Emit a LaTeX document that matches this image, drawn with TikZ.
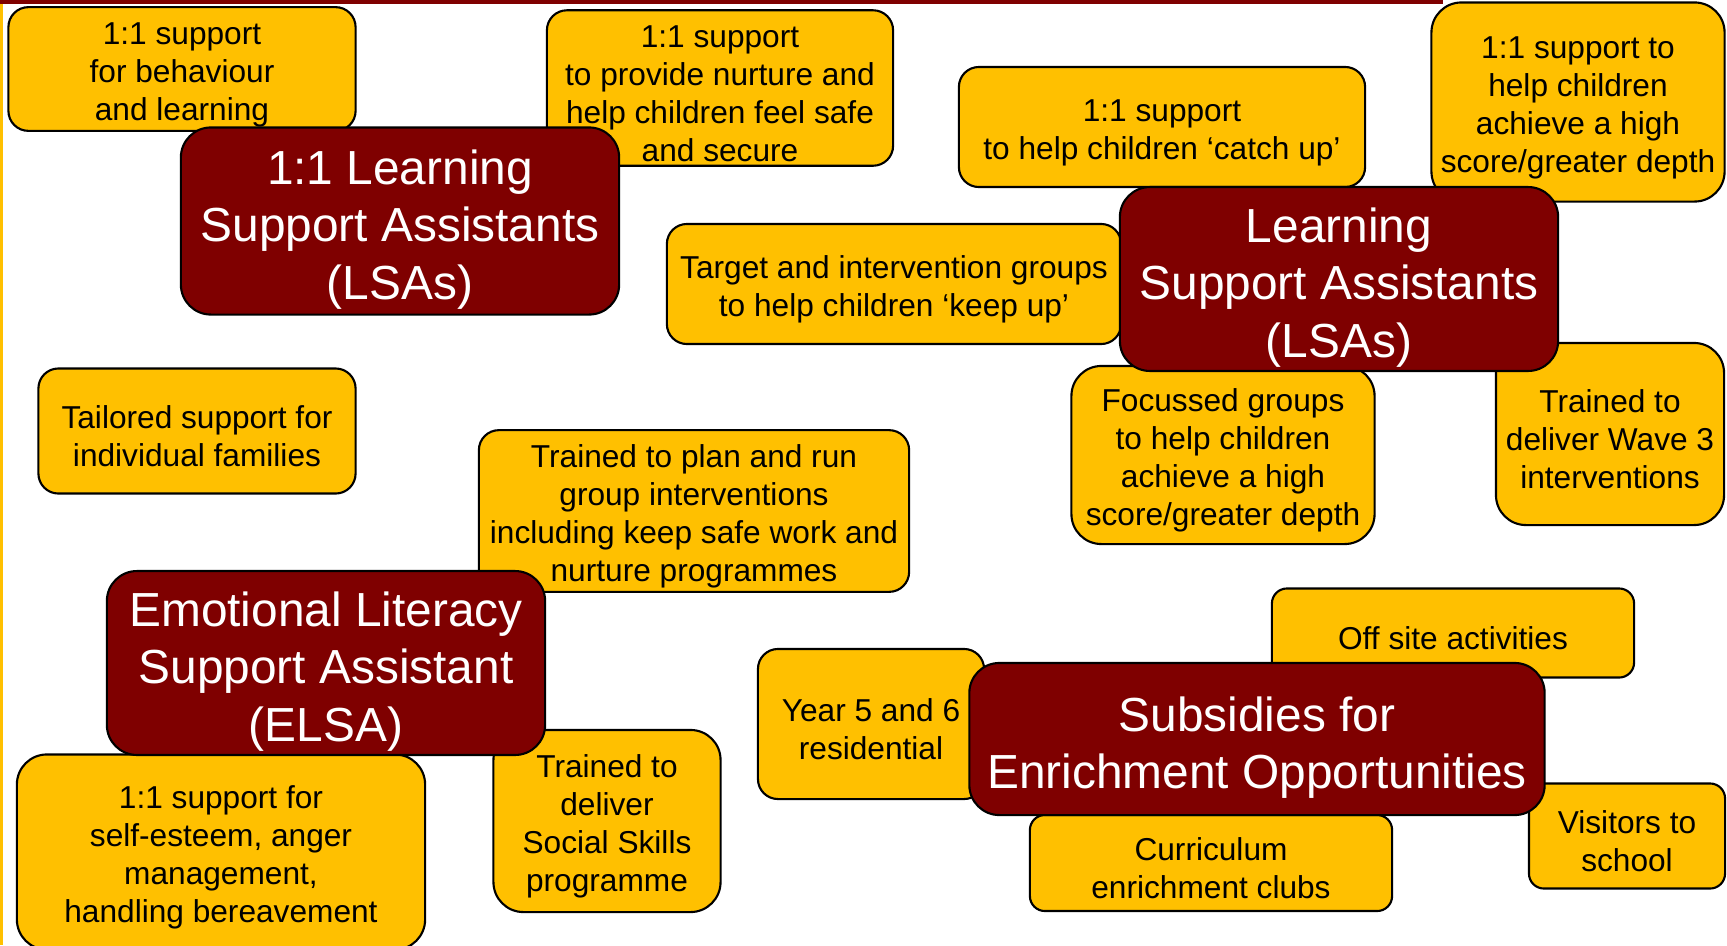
\documentclass[tikz,border=0pt]{standalone}
\usepackage{fontspec}
\setmainfont{Liberation Sans}
\definecolor{lsagold}{HTML}{FFC000}
\definecolor{lsared}{HTML}{7F0000}
\newcommand{\boxtop}{\rule{0pt}{1.08em}}
\tikzset{
  box/.style={draw=black, line width=0.6pt, fill=lsagold, rounded corners=2mm, align=center, inner sep=1pt, font=\fontsize{9}{10.8}\selectfont},
  head/.style={box, fill=lsared, rounded corners=3mm, text=white, font=\fontsize{13.6}{16.4}\selectfont}
}
\begin{document}
\begin{tikzpicture}[x=0.01cm, y=-0.01cm]
	\useasboundingbox (0,0) rectangle (1727,945);
	\fill[lsagold] (0,0) rectangle (3,945);
	\fill[lsared] (0,0) rectangle (1443,3.5);
	
	\node[box, minimum width=3.47cm, minimum height=1.21cm] (v1) at (182,69) {\boxtop 1:1 support\\for behaviour\\and learning};
	\node[box, minimum width=3.46cm, minimum height=1.54cm] (v2) at (720,88) {\boxtop 1:1 support\\to provide nurture and\\help children feel safe\\and secure};
	\node[box, minimum width=4.06cm, minimum height=1.20cm] (v3) at (1162,127) {\boxtop 1:1 support\\to help children `catch up'};
	\node[box, minimum width=2.93cm, minimum height=1.99cm, rounded corners=3mm] (v4) at (1578,102) {\boxtop 1:1 support to\\help children\\achieve a high\\score/greater depth};
	\node[box, minimum width=4.54cm, minimum height=1.20cm] (v5) at (894,284) {\boxtop Target and intervention groups\\to help children `keep up'};
	\node[box, minimum width=3.17cm, minimum height=1.25cm] (v6) at (197,431) {\boxtop Tailored support for\\individual families};
	\node[box, minimum width=4.30cm, minimum height=1.59cm] (v7) at (694,511) {\boxtop Trained to plan and run\\group interventions\\including keep safe work and\\nurture programmes};
	\node[box, minimum width=3.03cm, minimum height=1.78cm, rounded corners=3mm] (v8) at (1223,455) {\boxtop Focussed groups\\to help children\\achieve a high\\score/greater depth};
	\node[box, minimum width=2.28cm, minimum height=1.82cm, rounded corners=3mm] (v9) at (1610,434) {\boxtop Trained to\\deliver Wave 3\\interventions};
	\node[box, minimum width=4.08cm, minimum height=1.95cm, rounded corners=3mm] (v10) at (221,852) {\boxtop 1:1 support for\\self-esteem, anger\\management,\\handling bereavement};
	\node[box, minimum width=2.27cm, minimum height=1.82cm, rounded corners=3mm] (v11) at (607,821) {\boxtop Trained to\\deliver\\Social Skills\\programme};
	\node[box, minimum width=2.26cm, minimum height=1.50cm] (v12) at (871,724) {\boxtop Year 5 and 6\\residential};
	\node[box, minimum width=3.62cm, minimum height=0.89cm, rounded corners=1.5mm] (v13) at (1453,633) {\boxtop Off site activities};
	\node[box, minimum width=3.62cm, minimum height=0.96cm, rounded corners=1.5mm] (v14) at (1211,863) {\boxtop Curriculum\\enrichment clubs};
	\node[box, minimum width=1.96cm, minimum height=1.05cm, rounded corners=1.5mm] (v15) at (1627,836) {\boxtop Visitors to\\school};
	
	\node[head, minimum width=4.38cm, minimum height=1.87cm] (v16) at (400,221) {\boxtop 1:1 Learning\\Support Assistants\\(LSAs)};
	\node[head, minimum width=4.38cm, minimum height=1.79cm] (v17) at (1339,279) {\boxtop Learning\\Support Assistants\\(LSAs)};
	\node[head, minimum width=4.38cm, minimum height=1.81cm] (v18) at (326,663) {\boxtop Emotional Literacy\\Support Assistant\\(ELSA)};
	\node[head, minimum width=5.75cm, minimum height=1.52cm] (v19) at (1257,739) {\boxtop Subsidies for\\Enrichment Opportunities};
\end{tikzpicture}
\end{document}
